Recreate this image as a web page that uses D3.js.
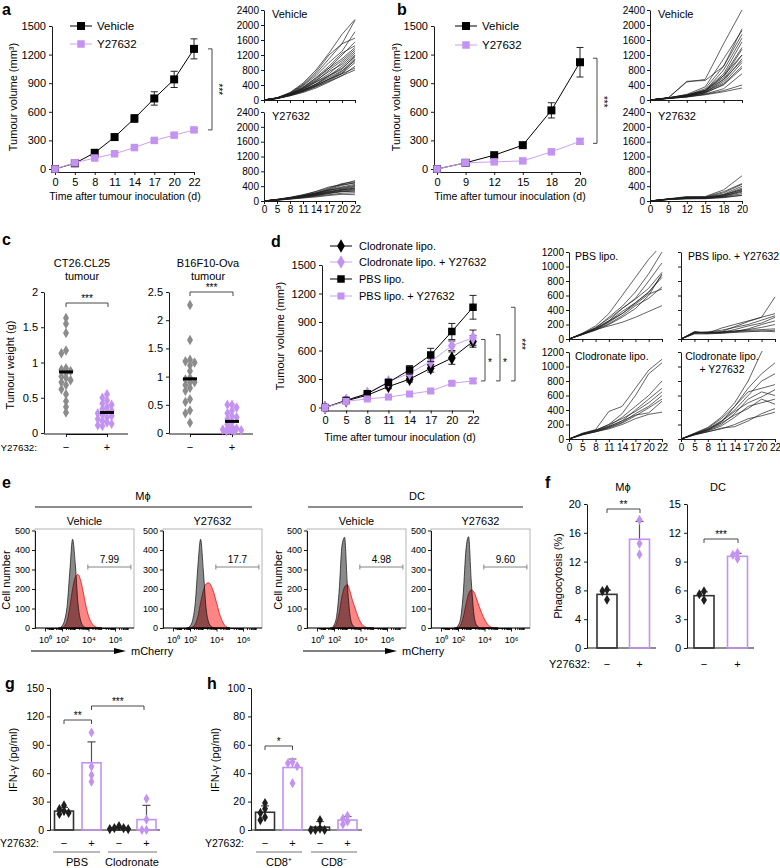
<!DOCTYPE html>
<html><head><meta charset="utf-8">
<script src="https://cdn.jsdelivr.net/npm/d3@7"></script>
<style>
body{margin:0;background:#fff}
svg{font-family:"Liberation Sans",Arial,Helvetica,sans-serif;display:block}
</style></head><body>
<svg id="fig" width="780" height="868"></svg>
<script>
// ================= DATA =================
// panel a (mean ± SEM)
const aDays = [0,5,8,11,14,17,20,22];
const aVehicle = [0,60,170,335,530,740,940,1260];
const aVehicleErr = [0,8,15,22,40,70,85,105];
const aY27632 = [0,65,115,160,225,300,355,410];
const aY27632Err = [0,4,6,8,10,12,14,16];
// panel a individual tumours
const aVehicleCurves = [
 [0,60,200,450,800,1250,1750,2150],[0,55,180,400,700,1100,1500,2130],[0,50,170,380,650,1000,1300,1820],
 [0,60,190,420,750,1200,1500,1650],[0,50,160,330,550,850,1200,1550],[0,45,150,320,600,900,1250,1450],
 [0,55,170,350,580,850,1100,1400],[0,50,160,300,500,800,1050,1350],[0,45,140,280,480,700,1000,1300],
 [0,50,150,320,520,760,950,1250],[0,40,130,260,430,650,900,1200],[0,50,150,300,480,650,850,1150],
 [0,45,140,270,420,600,780,1100],[0,40,120,240,380,560,760,1050],[0,50,140,260,400,550,700,1000],
 [0,40,120,220,350,500,650,900],[0,45,130,230,360,520,700,850],[0,40,110,200,320,480,650,800],
 [0,50,130,240,380,560,720,1080],[0,45,125,250,420,640,820,1180]];
const aY27632Curves = [
 [0,40,90,150,220,330,450,550],[0,45,100,170,250,350,470,520],[0,40,80,140,210,310,420,500],
 [0,35,90,160,260,380,440,480],[0,40,85,130,200,290,380,450],[0,30,70,120,190,280,360,420],
 [0,40,90,150,220,300,340,400],[0,35,75,120,180,250,320,380],[0,30,70,110,170,240,300,350],
 [0,35,80,130,200,260,310,340],[0,30,60,100,150,210,270,300],[0,25,60,100,140,200,250,280],
 [0,30,65,110,160,220,260,250],[0,25,55,90,130,170,210,220],[0,20,50,80,110,150,180,170],
 [0,30,70,120,170,230,290,320]];
// panel b
const bDays = [0,9,12,15,18,20];
const bVehicle = [0,65,145,250,615,1120];
const bVehicleErr = [0,6,14,20,80,155];
const bY27632 = [0,65,75,85,180,290];
const bY27632Err = [0,5,8,10,15,30];
const bVehicleCurves = [
 [0,60,480,550,1500,2400],[0,60,500,520,900,1900],[0,55,150,350,1100,1850],[0,60,130,300,900,1750],
 [0,50,120,250,800,1650],[0,60,140,260,700,1550],[0,50,110,230,650,1400],[0,55,120,250,600,1350],
 [0,50,100,200,550,1200],[0,45,100,200,500,1100],[0,50,110,220,450,1000],[0,45,90,180,420,900],
 [0,50,100,200,400,850],[0,40,80,160,300,700],[0,45,90,150,250,400],[0,40,80,140,220,320],
 [0,50,120,260,650,1200],[0,55,130,240,550,1050]];
const bY27632Curves = [
 [0,60,120,120,300,680],[0,55,100,110,250,470],[0,50,110,100,220,450],[0,55,90,90,180,400],
 [0,50,80,90,160,350],[0,45,80,80,150,320],[0,50,90,100,170,300],[0,45,80,80,140,260],
 [0,40,70,80,120,240],[0,45,70,70,110,200],[0,40,60,60,100,160],[0,50,80,90,130,280],[0,40,60,70,90,150]];
// panel c (tumour weight, g)
const cGroups = ['−','+'];
const cCT26Vehicle = [1.63,1.55,1.42,1.17,1.13,0.92,0.9,0.88,0.85,0.8,0.78,0.75,0.72,0.68,0.62,0.55,0.45,0.37,0.29];
const cCT26Y27632 = [0.55,0.5,0.46,0.42,0.4,0.37,0.34,0.32,0.3,0.28,0.26,0.24,0.22,0.2,0.17,0.15,0.13,0.11,0.1];
const cB16Vehicle = [2.27,1.65,1.3,1.27,1.25,1.2,1.1,0.98,0.95,0.9,0.85,0.8,0.75,0.6,0.55,0.4,0.35,0.18,0.9];
const cB16Y27632 = [0.5,0.5,0.45,0.4,0.35,0.3,0.28,0.25,0.2,0.15,0.1,0.08,0.06,0.05,0.05,0.04,0.03,0.05,0.07];
// panel d
const dDays = [0,5,8,11,14,17,20,22];
const dClod = [0,70,130,220,298,413,520,695];
const dClodErr = [0,8,14,22,30,40,65,60];
const dClodY = [0,75,150,272,361,484,650,735];
const dClodYErr = [0,8,15,20,30,40,50,80];
const dPBS = [0,75,145,265,396,553,800,1055];
const dPBSErr = [0,8,15,25,45,70,85,125];
const dPBSY = [0,65,90,110,142,174,255,280];
const dPBSYErr = [0,6,8,10,12,15,18,25];
const dPBSCurves = [
 [0,80,180,350,600,850,1100,1300],[0,70,150,300,450,650,900,1200],[0,75,160,280,420,560,800,1050],
 [0,70,140,250,420,550,700,920],[0,60,130,240,380,500,650,850],[0,70,150,250,350,480,620,690],
 [0,65,130,180,230,300,380,460],[0,60,120,200,300,420,600,900],[0,70,140,230,350,500,640,880],
 [0,65,130,210,320,460,560,720]];
const dPBSYCurves = [
 [0,100,80,150,200,250,300,580],[0,90,90,100,170,240,300,350],[0,80,100,120,160,200,260,320],
 [0,100,90,90,130,180,220,300],[0,80,80,80,100,140,200,250],[0,90,85,90,110,130,160,200],
 [0,70,70,80,90,100,110,120],[0,80,90,100,110,120,130,140],[0,95,80,90,100,110,110,100]];
const dClodCurves = [
 [0,80,130,380,450,700,950,1100],[0,75,120,200,350,600,900,1050],[0,70,120,180,300,450,600,800],
 [0,70,110,170,250,400,550,700],[0,65,100,160,230,350,450,600],[0,60,100,150,220,320,430,550],
 [0,60,110,170,250,330,360,520],[0,55,100,140,200,280,340,370],[0,70,120,200,280,380,500,650]];
const dClodYCurves = [
 [0,80,160,300,500,800,1200,1400],[0,75,150,280,450,700,900,1050],[0,70,140,250,400,600,800,900],
 [0,70,130,230,450,650,700,750],[0,65,120,200,350,550,650,600],[0,60,110,180,300,450,500,550],
 [0,60,100,150,170,250,350,420],[0,55,100,140,200,280,320,370],[0,65,130,240,380,500,580,680],
 [0,70,120,220,330,420,550,480]];
// panel e (flow histograms, x in log10 decades)
const flowBins = [1.6,1.8,2.0,2.2,2.4,2.6,2.8,3.0,3.2,3.4,3.6,3.8,4.0,4.2,4.4,4.6,4.8,5.0];
const flowMacVehGrey = [0,2,10,40,120,300,455,330,130,40,10,2,0,0,0,0,0,0];
const flowMacVehRed  = [0,0,2,10,40,110,200,260,275,245,185,115,62,30,12,4,0,0];
const flowMacYGrey   = [0,2,10,40,130,320,455,300,110,30,8,2,0,0,0,0,0,0];
const flowMacYRed    = [0,0,0,5,20,60,130,190,225,232,215,180,130,80,40,15,4,0];
const flowDCVehGrey  = [0,2,15,60,200,420,465,230,70,15,3,0,0,0,0,0,0,0];
const flowDCVehRed   = [0,0,5,25,80,160,210,222,190,140,100,60,30,12,4,0,0,0];
const flowDCYGrey    = [0,2,12,50,180,400,468,240,70,15,3,0,0,0,0,0,0,0];
const flowDCYRed     = [0,0,3,15,55,120,175,195,185,150,110,75,45,22,8,2,0,0];
const flowGatePct = ['7.99','17.7','4.98','9.60'];
const flowTicks = ['10⁰','10²','10⁴','10⁶'];
// panel f (phagocytosis %)
const fMacMean = [7.45,15.1], fMacErr = [0.6,2.5];
const fMacPts = [[7.9,8.1,6.7],[17.8,14.5,13.0]];
const fDCMean = [5.45,9.55], fDCErr = [0.4,0.3];
const fDCPts = [[5.6,5.9,5.0],[9.7,9.9,9.3]];
// panel g (IFN-γ pg/ml)
const gCats = ['PBS −','PBS +','Clodronate −','Clodronate +'];
const gMean = [20,71,2,11], gErr = [4,22,1.5,15];
const gPts = [[26,22,18,17,20],[103,67,58,51],[4,2,1,1,2],[33,11,0,0]];
// panel h
const hCats = ['CD8+ −','CD8+ +','CD8− −','CD8− +'];
const hMean = [12.5,44,2,7], hErr = [4.5,6,4,2.5];
const hPts = [[19,15,12,9,7],[48,47,45,33],[7,1,0,0,0],[10,8,6,4]];

// ================= DRAWING =================
const PURPLE = '#c493f2';
const PURPLE_L = '#c9a2f2';
const FONT = '"Liberation Sans", Arial, Helvetica, sans-serif';
const fmtInt = d3.format('d');
const svg = d3.select('#fig');
let clipN = 0;

function axisStyle(sel, fs){
  sel.select('.domain').attr('stroke','#000').attr('stroke-width',0.9);
  sel.selectAll('.tick line').attr('stroke','#000').attr('stroke-width',0.9);
  sel.selectAll('.tick text').attr('font-size',fs).attr('fill','#000').attr('font-family',FONT);
}
function txt(x,y,s,o={}){
  const t = svg.append('text').attr('x',x).attr('y',y).text(s)
    .attr('font-size',o.fs||11).attr('text-anchor',o.anchor||'start').attr('fill',o.fill||'#000');
  if(o.bold) t.attr('font-weight','bold');
  if(o.rot) t.attr('transform',`rotate(${o.rot},${x},${y})`);
  return t;
}
function letter(x,y,s){ txt(x,y,s,{fs:16,bold:true}); }
function hline(x1,x2,y,col='#000',w=0.9){ svg.append('line').attr('x1',x1).attr('x2',x2).attr('y1',y).attr('y2',y).attr('stroke',col).attr('stroke-width',w); }
function hBracket(x1,x2,y,label,fs=10){
  svg.append('path').attr('d',`M${x1},${y+4}V${y}H${x2}V${y+4}`).attr('fill','none').attr('stroke','#333').attr('stroke-width',0.9);
  txt((x1+x2)/2,y-1.5,label,{fs,anchor:'middle'});
}
function vBracket(x,y1,y2){
  svg.append('path').attr('d',`M${x-4},${y1}H${x}V${y2}H${x-4}`).attr('fill','none').attr('stroke','#333').attr('stroke-width',0.9);
}
function swarm(vals, y, cx, r, maxOff=4){
  const pts = vals.map(v=>({v,y:y(v)})).sort((a,b)=>a.y-b.y);
  const placed=[]; const offs=[0,-1,1,-2,2,-3,3,-4,4].filter(o=>Math.abs(o)<=maxOff);
  pts.forEach(p=>{
    for(const o of offs){ const x=cx+o*r; if(placed.every(q=>Math.hypot(q.x-x,q.y-p.y)>=r*0.98)){p.x=x;break;} }
    if(p.x===undefined){ const n=placed.filter(q=>Math.abs(q.y-p.y)<r).length; p.x=cx+offs[n%offs.length]*r*0.6; }
    placed.push(p);
  });
  return placed;
}

// ---------- line charts ----------
const volTicks = [0,300,600,900,1200,1500];
function lineChart(cfg){
  const g = svg.append('g');
  const x = d3.scalePoint().domain(cfg.days).range(cfg.xr);
  const y = d3.scaleLinear().domain([0,1500]).range(cfg.yr);
  g.append('g').attr('transform',`translate(${cfg.xr[0]-3},0)`)
    .call(d3.axisLeft(y).tickValues(volTicks).tickFormat(fmtInt).tickSize(3).tickSizeOuter(0).tickPadding(3)).call(s=>axisStyle(s,11));
  g.append('g').attr('transform',`translate(0,${cfg.yr[0]+3})`)
    .call(d3.axisBottom(x).tickSize(3).tickSizeOuter(0).tickPadding(3)).call(s=>axisStyle(s,11));
  const line = d3.line().x((d,i)=>x(cfg.days[i])).y(d=>y(d));
  cfg.series.forEach(s=>{
    s.vals.forEach((v,i)=>{
      const e=s.err[i]; if(!e) return; const cx=x(cfg.days[i]);
      g.append('path').attr('d',`M${cx},${y(v-e)}V${y(v+e)}M${cx-3.5},${y(v-e)}H${cx+3.5}M${cx-3.5},${y(v+e)}H${cx+3.5}`)
        .attr('stroke','#222').attr('stroke-width',1).attr('fill','none');
    });
    g.append('path').attr('d',line(s.vals)).attr('fill','none').attr('stroke',s.line).attr('stroke-width',1);
    g.selectAll(null).data(s.vals).join('path')
      .attr('transform',(d,i)=>`translate(${x(cfg.days[i])},${y(d)})`)
      .attr('d',d3.symbol().type(s.sym).size(s.size)).attr('fill',s.color);
  });
  cfg.series.filter(s=>s.name).forEach((s,i)=>{
    const ly = cfg.leg.y[i];
    g.append('line').attr('x1',cfg.leg.x-11).attr('x2',cfg.leg.x+11).attr('y1',ly).attr('y2',ly).attr('stroke',s.line).attr('stroke-width',1);
    g.append('path').attr('transform',`translate(${cfg.leg.x},${ly})`).attr('d',d3.symbol().type(s.sym).size(s.size)()).attr('fill',s.color);
    g.append('text').attr('x',cfg.leg.tx).attr('y',ly+4).text(s.name).attr('font-size',cfg.leg.fs||11.5);
  });
  return {x,y};
}
function spaghetti(cfg){
  const g = svg.append('g');
  const x = d3.scalePoint().domain(cfg.days).range(cfg.xr);
  const y = d3.scaleLinear().domain([0,cfg.ymax]).range(cfg.yr);
  const id = 'clip'+(clipN++);
  svg.append('clipPath').attr('id',id).append('rect').attr('x',cfg.xr[0]).attr('y',cfg.yr[1]-1)
    .attr('width',cfg.xr[1]-cfg.xr[0]+2).attr('height',cfg.yr[0]-cfg.yr[1]+2);
  const ya = d3.axisLeft(y).tickValues(cfg.yticks).tickSize(3).tickSizeOuter(0).tickPadding(2).tickFormat(cfg.yLabels?fmtInt:'');
  g.append('g').attr('transform',`translate(${cfg.xr[0]},0)`).call(ya).call(s=>axisStyle(s,10));
  const xa = d3.axisBottom(x).tickSize(3).tickSizeOuter(0).tickPadding(2);
  if(!cfg.xLabels) xa.tickFormat('');
  g.append('g').attr('transform',`translate(0,${cfg.yr[0]})`).call(xa).call(s=>axisStyle(s,10));
  const line = d3.line().x((d,i)=>x(cfg.days[i])).y(d=>y(d));
  g.append('g').attr('clip-path',`url(#${id})`).selectAll('path').data(cfg.curves).join('path')
    .attr('d',line).attr('fill','none').attr('stroke','#1e1e1e').attr('stroke-width',0.7);
  cfg.title.forEach((t,i)=>{
    g.append('text').attr('x',cfg.tx).attr('y',cfg.yr[1]+8+i*12.5).text(t)
      .attr('font-size',cfg.tfs||11).attr('text-anchor',cfg.tAnchor||'start');
  });
}

// ===== panel a =====
letter(2,15,'a');
const A = lineChart({days:aDays, xr:[55,194], yr:[169,26],
  leg:{x:81,tx:97,y:[26,44]},
  series:[
    {name:'Vehicle', vals:aVehicle, err:aVehicleErr, color:'#000', line:'#000', sym:d3.symbolSquare, size:64},
    {name:'Y27632', vals:aY27632, err:aY27632Err, color:PURPLE, line:PURPLE_L, sym:d3.symbolSquare, size:56}]});
txt(17,97,'Tumour volume (mm³)',{rot:-90,anchor:'middle',fs:11});
txt(125,200,'Time after tumour inoculation (d)',{anchor:'middle',fs:10.5});
vBracket(212, A.y(aVehicle[aVehicle.length-1]), A.y(aY27632[aY27632.length-1]));
txt(215, (A.y(aVehicle[7])+A.y(aY27632[7]))/2, '***',{rot:90,anchor:'middle',fs:10});
spaghetti({days:aDays, curves:aVehicleCurves, xr:[264,355], yr:[100,10], ymax:2400, yticks:[0,400,800,1200,1600,2000,2400], yLabels:true, xLabels:false, title:['Vehicle'], tx:272});
spaghetti({days:aDays, curves:aY27632Curves, xr:[264,355], yr:[201,112], ymax:2400, yticks:[0,400,800,1200,1600,2000,2400], yLabels:true, xLabels:true, title:['Y27632'], tx:272});

// ===== panel b =====
letter(397,15,'b');
const B = lineChart({days:bDays, xr:[437,580], yr:[169,26],
  leg:{x:466,tx:482,y:[26,45]},
  series:[
    {name:'Vehicle', vals:bVehicle, err:bVehicleErr, color:'#000', line:'#000', sym:d3.symbolSquare, size:64},
    {name:'Y27632', vals:bY27632, err:bY27632Err, color:PURPLE, line:PURPLE_L, sym:d3.symbolSquare, size:56}]});
txt(400,97,'Tumour volume (mm³)',{rot:-90,anchor:'middle',fs:11});
txt(510,200,'Time after tumour inoculation (d)',{anchor:'middle',fs:10.5});
vBracket(597, B.y(bVehicle[5])-4, B.y(bY27632[5])+2);
txt(600, (B.y(bVehicle[5])+B.y(bY27632[5]))/2, '***',{rot:90,anchor:'middle',fs:10});
spaghetti({days:bDays, curves:bVehicleCurves, xr:[650,742], yr:[100,10], ymax:2400, yticks:[0,400,800,1200,1600,2000,2400], yLabels:true, xLabels:false, title:['Vehicle'], tx:658});
spaghetti({days:bDays, curves:bY27632Curves, xr:[650,742], yr:[201,112], ymax:2400, yticks:[0,400,800,1200,1600,2000,2400], yLabels:true, xLabels:true, title:['Y27632'], tx:658});

// ===== panel c =====
letter(2,245,'c');
function dotPanel(cfg){
  const g = svg.append('g');
  const y = d3.scaleLinear().domain([0,cfg.ymax]).range([433,292]);
  const x = d3.scalePoint().domain(cGroups).range(cfg.xr);
  g.append('g').attr('transform',`translate(${cfg.axisX},0)`)
    .call(d3.axisLeft(y).tickValues(cfg.yticks).tickFormat(d=>String(d)).tickSize(3).tickSizeOuter(0).tickPadding(3)).call(s=>axisStyle(s,11));
  g.append('g').attr('transform',`translate(0,434)`)
    .call(d3.axisBottom(x).tickSize(3).tickSizeOuter(0).tickFormat('')).call(s=>axisStyle(s,10));
  g.append('line').attr('x1',cfg.axisX).attr('x2',cfg.xr[1]+21).attr('y1',434).attr('y2',434).attr('stroke','#000').attr('stroke-width',0.9);
  [cfg.veh, cfg.y27].forEach((vals,i)=>{
    const cx = x(cGroups[i]); const col = i? PURPLE : '#8c8c8c';
    swarm(vals,y,cx,4.6,2).forEach(p=>g.append('path').attr('transform',`translate(${p.x},${p.y})`).attr('d',d3.symbol().type(d3.symbolDiamond).size(32)()).attr('fill',col));
    const m = d3.mean(vals);
    g.append('line').attr('x1',cx-7).attr('x2',cx+7).attr('y1',y(m)).attr('y2',y(m)).attr('stroke','#000').attr('stroke-width',3);
    txt(cx,451,cGroups[i],{anchor:'middle',fs:11});
  });
  cfg.title.forEach((t,i)=>txt(cfg.tcx,267+i*13,t,{anchor:'middle',fs:11}));
  hBracket(x(cGroups[0]),x(cGroups[1])+1,cfg.brY,'***');
}
dotPanel({axisX:44, xr:[66,107], ymax:2, yticks:[0,0.5,1,1.5,2], veh:cCT26Vehicle, y27:cCT26Y27632, title:['CT26.CL25','tumour'], tcx:82, brY:303});
dotPanel({axisX:169, xr:[190,232], ymax:2.5, yticks:[0,0.5,1,1.5,2,2.5], veh:cB16Vehicle, y27:cB16Y27632, title:['B16F10-Ova','tumour'], tcx:208, brY:292});
txt(14,365,'Tumour weight (g)',{rot:-90,anchor:'middle',fs:11});
txt(37,451,'Y27632:',{anchor:'end',fs:9.8});

// ===== panel d =====
letter(271,247,'d');
const D = lineChart({days:dDays, xr:[325,473], yr:[407.5,265],
  leg:{x:341,tx:359,y:[246,262,279,296],fs:11},
  series:[
    {name:'Clodronate lipo.', vals:dClod, err:dClodErr, color:'#000', line:'#000', sym:d3.symbolDiamond, size:52},
    {name:'Clodronate lipo. + Y27632', vals:dClodY, err:dClodYErr, color:PURPLE, line:PURPLE_L, sym:d3.symbolDiamond, size:52},
    {name:'PBS lipo.', vals:dPBS, err:dPBSErr, color:'#000', line:'#000', sym:d3.symbolSquare, size:56},
    {name:'PBS lipo. + Y27632', vals:dPBSY, err:dPBSYErr, color:PURPLE, line:PURPLE_L, sym:d3.symbolSquare, size:50}]});
txt(284,336,'Tumour volume (mm³)',{rot:-90,anchor:'middle',fs:11});
txt(400,441,'Time after tumour inoculation (d)',{anchor:'middle',fs:10.5});
const dLast = dDays.length-1;
vBracket(485, D.y(dClod[dLast])-2, D.y(dPBSY[dLast]));
vBracket(500, D.y(dClodY[dLast])-3, D.y(dPBSY[dLast]));
vBracket(515, D.y(dPBS[dLast]), D.y(dPBSY[dLast]));
txt(488,366,'*',{fs:10});
txt(503,366,'*',{fs:10});
txt(518,(D.y(dPBS[dLast])+D.y(dPBSY[dLast]))/2,'***',{rot:90,anchor:'middle',fs:10});
const dTicks=[0,200,400,600,800,1000,1200];
spaghetti({days:dDays, curves:dPBSCurves, xr:[569,662], yr:[339,252], ymax:1200, yticks:dTicks, yLabels:true, xLabels:false, title:['PBS lipo.'], tx:575, tfs:10.5});
spaghetti({days:dDays, curves:dPBSYCurves, xr:[681,775], yr:[339,252], ymax:1200, yticks:dTicks, yLabels:false, xLabels:false, title:['PBS lipo. + Y27632'], tx:688, tfs:10.5});
spaghetti({days:dDays, curves:dClodCurves, xr:[569,662], yr:[439,352], ymax:1200, yticks:dTicks, yLabels:true, xLabels:true, title:['Clodronate lipo.'], tx:575, tfs:10.5});
spaghetti({days:dDays, curves:dClodYCurves, xr:[681,775], yr:[439,352], ymax:1200, yticks:dTicks, yLabels:false, xLabels:true, title:['Clodronate lipo.','+ Y27632'], tx:722, tAnchor:'middle', tfs:10.5});

// ===== panel e =====
letter(2,488,'e');
txt(143,500,'Mϕ',{anchor:'middle',fs:11});
hline(35,252,507);
txt(417,500,'DC',{anchor:'middle',fs:11});
hline(308,523,507);
function flowBox(cfg){
  const x0 = cfg.x0, W = 99, yb = 628, yt = 529;
  const g = svg.append('g');
  const xs = d3.scaleLinear().domain([0,2,6]).range([x0+10,x0+27,x0+80]);
  const ys = d3.scaleLinear().domain([0,500]).range([628,530.5]);
  g.append('rect').attr('x',x0).attr('y',yt).attr('width',W).attr('height',yb-yt).attr('fill','none').attr('stroke','#b4b4b4').attr('stroke-width',1);
  const id='clip'+(clipN++);
  svg.append('clipPath').attr('id',id).append('rect').attr('x',x0).attr('y',yt).attr('width',W).attr('height',yb-yt);
  const area = d3.area().x((d,i)=>xs(flowBins[i])).y0(ys(0)).y1(d=>ys(d)).curve(d3.curveMonotoneX);
  const hg = g.append('g').attr('clip-path',`url(#${id})`).style('isolation','isolate');
  hg.append('path').attr('d',area(cfg.grey)).attr('fill','#8a8a8a').attr('stroke','#222').attr('stroke-width',0.8);
  hg.append('path').attr('d',area(cfg.red)).attr('fill','#ff8585').attr('stroke','#e01010').attr('stroke-width',0.8).style('mix-blend-mode','multiply');
  g.append('g').attr('transform',`translate(${x0},0)`)
    .call(d3.axisLeft(ys).tickValues([0,100,200,300,400,500]).tickSize(3).tickSizeOuter(0).tickPadding(2)).call(s=>axisStyle(s,9));
  const minor=[]; for(let dd=0; dd<7; dd++){ for(let m=2;m<10;m++){ const v=dd+Math.log10(m); if(v<7.3) minor.push(v);} }
  g.append('g').attr('transform',`translate(0,${yb})`)
    .call(d3.axisBottom(xs).tickValues(minor).tickSize(2).tickFormat('').tickSizeOuter(0)).call(s=>axisStyle(s,9))
    .select('.domain').remove();
  g.append('g').attr('transform',`translate(0,${yb})`)
    .call(d3.axisBottom(xs).tickValues([0,2,4,6]).tickSize(3.5).tickSizeOuter(0).tickFormat((d,i)=>flowTicks[i]).tickPadding(5)).call(s=>axisStyle(s,9));
  g.append('line').attr('x1',x0).attr('x2',x0+W).attr('y1',yb).attr('y2',yb).attr('stroke','#000').attr('stroke-width',0.9);
  const gx1 = xs(3.95), gx2 = xs(7.2);
  g.append('path').attr('d',`M${gx1},${564.5}V${569.5}M${gx1},567H${gx2}M${gx2},564.5V${569.5}`).attr('stroke','#777').attr('stroke-width',0.9).attr('fill','none');
  g.append('text').attr('x',(gx1+gx2)/2).attr('y',563).attr('text-anchor','middle').attr('font-size',10).text(cfg.pct);
  txt(x0+W/2,525,cfg.title,{anchor:'middle',fs:11});
}
flowBox({x0:35, title:'Vehicle', grey:flowMacVehGrey, red:flowMacVehRed, pct:flowGatePct[0]});
flowBox({x0:163, title:'Y27632', grey:flowMacYGrey, red:flowMacYRed, pct:flowGatePct[1]});
flowBox({x0:307, title:'Vehicle', grey:flowDCVehGrey, red:flowDCVehRed, pct:flowGatePct[2]});
flowBox({x0:431, title:'Y27632', grey:flowDCYGrey, red:flowDCYRed, pct:flowGatePct[3]});
txt(10,580,'Cell number',{rot:-90,anchor:'middle',fs:11});
txt(282,580,'Cell number',{rot:-90,anchor:'middle',fs:11});
function arrow(x1,x2,y){
  svg.append('line').attr('x1',x1).attr('x2',x2-8).attr('y1',y).attr('y2',y).attr('stroke','#000').attr('stroke-width',1.2);
  svg.append('path').attr('d',`M${x2},${y}L${x2-12},${y-3}L${x2-12},${y+3}Z`).attr('fill','#000');
}
arrow(31,126,651); txt(131,655,'mCherry',{fs:11});
arrow(303,397,651); txt(402,655,'mCherry',{fs:11});

// ===== panel f =====
letter(545,488,'f');
function barPanel(cfg){
  const g = svg.append('g');
  const y = d3.scaleLinear().domain([0,cfg.ymax]).range([cfg.y0,cfg.ytop]);
  const x = d3.scalePoint().domain(cfg.cats).range(cfg.xr);
  g.append('g').attr('transform',`translate(${cfg.axisX},0)`)
    .call(d3.axisLeft(y).tickValues(cfg.yticks).tickFormat(fmtInt).tickSize(3).tickSizeOuter(0).tickPadding(3)).call(s=>axisStyle(s,cfg.fs||11));
  g.append('line').attr('x1',cfg.axisX).attr('x2',cfg.xEnd).attr('y1',cfg.y0).attr('y2',cfg.y0).attr('stroke','#000').attr('stroke-width',0.9);
  cfg.cats.forEach((c,i)=>{
    const cx=x(c), m=cfg.means[i], e=cfg.errs[i];
    const purple = cfg.purple[i];
    const col = purple ? PURPLE : '#333';
    g.append('path').attr('d',`M${cx},${y(m)}V${y(m+e)}M${cx-4},${y(m+e)}H${cx+4}`).attr('stroke','#555').attr('stroke-width',1.2).attr('fill','none');
    g.append('rect').attr('x',cx-cfg.bw/2).attr('y',y(m)).attr('width',cfg.bw).attr('height',cfg.y0-y(m))
      .attr('fill','none').attr('stroke',col).attr('stroke-width',1.6);
    swarm(cfg.pts[i],y,cx,4.6).forEach(p=>g.append('path').attr('transform',`translate(${p.x},${p.y})`)
      .attr('d',d3.symbol().type(d3.symbolDiamond).size(30)()).attr('fill',purple?PURPLE:'#1e1e1e'));
  });
  return {x,y};
}
const fCats=['−','+'];
const FM = barPanel({cats:fCats, xr:[607,639.5], axisX:587, xEnd:656, y0:648, ytop:504, ymax:20, yticks:[0,4,8,12,16,20], means:fMacMean, errs:fMacErr, pts:fMacPts, purple:[false,true], bw:20});
const FD = barPanel({cats:fCats, xr:[704,737.5], axisX:687, xEnd:754, y0:648, ytop:504, ymax:15, yticks:[0,3,6,9,12,15], means:fDCMean, errs:fDCErr, pts:fDCPts, purple:[false,true], bw:20});
txt(623,491,'Mϕ',{anchor:'middle',fs:11});
txt(718,491,'DC',{anchor:'middle',fs:11});
hBracket(607,640,509,'**');
hBracket(704,738,539,'***');
txt(562,576,'Phagocytosis (%)',{rot:-90,anchor:'middle',fs:11});
txt(590,668,'Y27632:',{anchor:'end',fs:11});
fCats.forEach(c=>{ txt(FM.x(c),668,c,{anchor:'middle',fs:11}); txt(FD.x(c),668,c,{anchor:'middle',fs:11}); });

// ===== panel g =====
letter(5,689,'g');
const G = barPanel({cats:gCats, xr:[64,146.5], axisX:50, xEnd:160, y0:830, ytop:688, ymax:150, yticks:[0,30,60,90,120,150], means:gMean, errs:gErr, pts:gPts, purple:[false,true,false,true], bw:19, fs:10.5});
hBracket(G.x(gCats[0]),G.x(gCats[1]),720,'**');
hBracket(G.x(gCats[1]),144,706,'***');
txt(17,760,'IFN-γ (pg/ml)',{rot:-90,anchor:'middle',fs:11});
txt(39,847,'Y27632:',{anchor:'end',fs:10.5});
['−','+','−','+'].forEach((s,i)=>txt(G.x(gCats[i]),847,s,{anchor:'middle',fs:11}));
hline(53,100,852,'#777',1.2); hline(108,157,852,'#777',1.2);
txt(77,866,'PBS',{anchor:'middle',fs:11});
txt(132,866,'Clodronate',{anchor:'middle',fs:11});

// ===== panel h =====
letter(207,689,'h');
const H = barPanel({cats:hCats, xr:[265,347.5], axisX:251, xEnd:362, y0:830, ytop:688, ymax:100, yticks:[0,20,40,60,80,100], means:hMean, errs:hErr, pts:hPts, purple:[false,true,false,true], bw:19, fs:10.5});
hBracket(H.x(hCats[0]),H.x(hCats[1]),746,'*');
txt(219,760,'IFN-γ (pg/ml)',{rot:-90,anchor:'middle',fs:11});
txt(244,847,'Y27632:',{anchor:'end',fs:10.5});
['−','+','−','+'].forEach((s,i)=>txt(H.x(hCats[i]),847,s,{anchor:'middle',fs:11}));
hline(256,302,852,'#777',1.2); hline(311,357,852,'#777',1.2);
txt(279,866,'CD8⁺',{anchor:'middle',fs:11});
txt(334,866,'CD8⁻',{anchor:'middle',fs:11});
</script>
</body></html>
